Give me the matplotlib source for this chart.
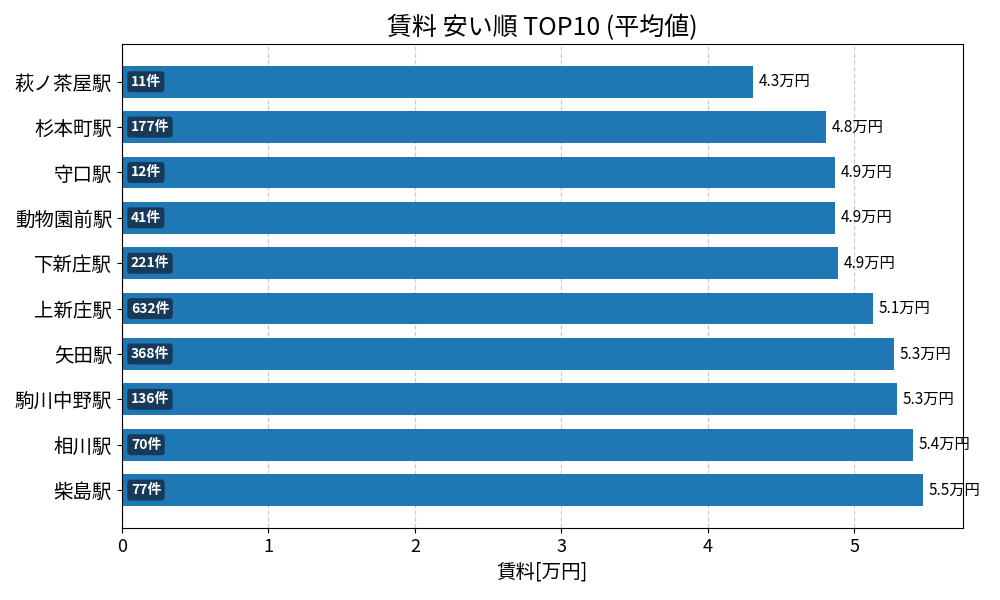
import matplotlib
matplotlib.use("Agg")
import matplotlib.pyplot as plt

plt.rcParams['font.family'] = ['Noto Sans CJK JP', 'DejaVu Sans']

stations = ["萩ノ茶屋駅", "杉本町駅", "守口駅", "動物園前駅", "下新庄駅",
            "上新庄駅", "矢田駅", "駒川中野駅", "相川駅", "柴島駅"]
rents = [4.31, 4.81, 4.87, 4.87, 4.89, 5.13, 5.27, 5.29, 5.40, 5.47]
counts = [11, 177, 12, 41, 221, 632, 368, 136, 70, 77]

fig, ax = plt.subplots(figsize=(10, 6), dpi=100)
fig.subplots_adjust(left=0.122, right=0.963, top=0.927, bottom=0.12)

y = list(range(len(stations)))
ax.barh(y, rents, height=0.7, color="#1f77b4", zorder=2)
ax.set_yticks(y)
ax.set_yticklabels(stations, fontsize=14)
ax.invert_yaxis()

for i, (r, c) in enumerate(zip(rents, counts)):
    ax.text(r + 0.04, i, f"{r:.1f}万円", va="center", ha="left", fontsize=11)
    ax.text(0.06, i, f"{c}件", va="center", ha="left", fontsize=10,
            color="white", fontweight="bold",
            bbox=dict(boxstyle="round,pad=0.25", fc="#173a5a", ec="none"))

ax.set_xlim(0, max(rents) * 1.05)
ax.grid(axis="x", linestyle="--", color="#cccccc", linewidth=0.9)
ax.set_axisbelow(True)
ax.tick_params(axis="x", labelsize=13)
ax.set_xlabel("賃料[万円]", fontsize=14)
ax.set_title("賃料 安い順 TOP10 (平均値)", fontsize=18)

fig.savefig("out.png", dpi=100)
